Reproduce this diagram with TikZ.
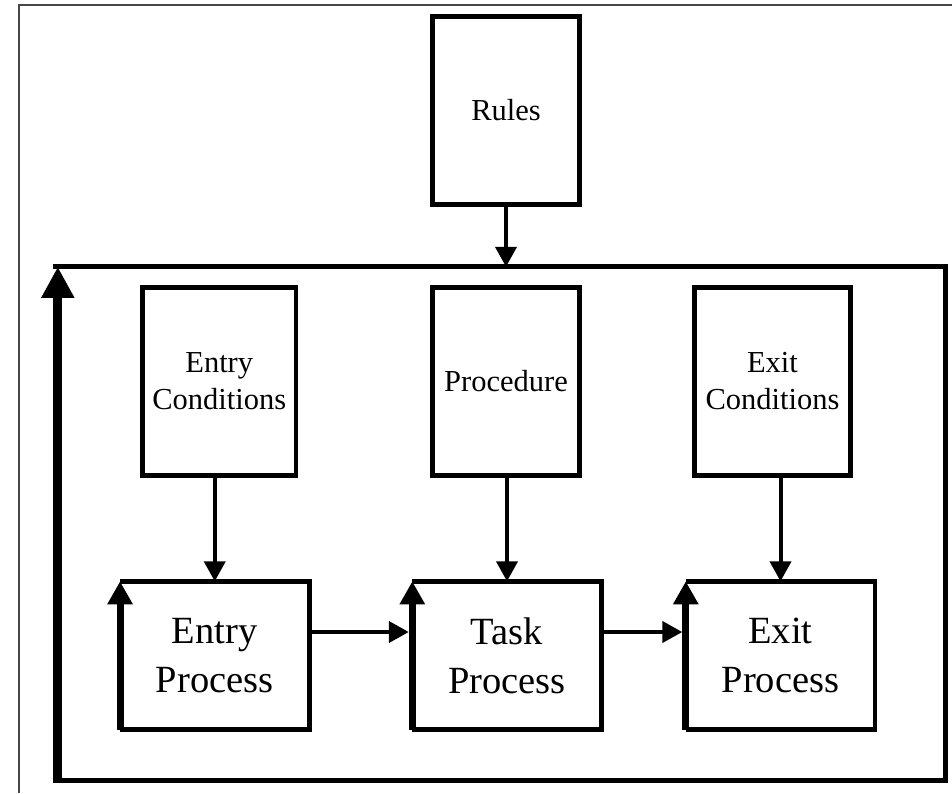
\documentclass[tikz,border=0pt]{standalone}
\usepackage{fontspec}
\setmainfont{Liberation Serif}
\usetikzlibrary{arrows.meta,calc}

\tikzset{
  smallbox/.style={draw, line width=4.5pt, rectangle, inner sep=0pt,
    minimum height=188pt, align=center,
    font=\fontsize{30.5}{37}\selectfont},
  procbox/.style={rectangle, inner sep=0pt, minimum width=189pt,
    minimum height=148pt, align=center,
    font=\fontsize{38.5}{49}\selectfont},
  boxedge/.style={line width=4.5pt, line join=miter},
  flow/.style={line width=4pt, -{Triangle[width=21pt,length=20pt]}},
  backloop/.style={line width=7pt, -{Triangle[width=24pt,length=23pt]}},
  mainloop/.style={line width=9pt, -{Triangle[width=31pt,length=31pt]}},
  frameline/.style={line width=2pt, draw=black!72}
}

\begin{document}
\begin{tikzpicture}[x=1pt,y=-1pt]
  \useasboundingbox (0,0) rectangle (952,793);

  % page frame (only its left and top edges fall inside)
  \coordinate (fbl) at (18.5,793);
  \coordinate (ftl) at (18.5,5);
  \coordinate (ftr) at (952,5);
  \draw[frameline] (fbl) -- (ftl) -- (ftr);

  % enclosing loop
  \node[rectangle, inner sep=0pt, minimum width=887.5pt, minimum height=513.5pt]
    (loop) at (501.75,523.75) {};
  \draw[line width=5pt, line join=miter]
    ($(loop.north west)+(-4.5,0)$) -- (loop.north east) -- (loop.south east)
    -- ($(loop.south west)+(-4.5,0)$);
  \draw[mainloop] (loop.south west) -- (loop.north west);

  % rules on top
  \node[smallbox, minimum width=147pt] (rules) at (506,110.5) {Rules};

  % condition / procedure boxes
  \node[smallbox, minimum width=153.5pt] (ec) at (219.25,381.5) {Entry\\Conditions};
  \node[smallbox, minimum width=147pt] (proc) at (506,381.5) {Procedure};
  \node[smallbox, minimum width=156pt] (xc) at (772.5,381.5) {Exit\\Conditions};

  % process boxes
  \node[procbox] (ep) at (214.75,655.5) {Entry\\Process};
  \node[procbox] (tp) at (507,655.5) {Task\\Process};
  \node[procbox] (xp) at (780.5,655.5) {Exit\\Process};

  \foreach \p in {ep,tp,xp}{
    \draw[boxedge] (\p.north west) -- (\p.north east) -- (\p.south east) -- (\p.south west);
    \draw[backloop] (\p.south west) -- (\p.north west);
  }

  % connectors
  \draw[flow] (rules.south) -- (rules.south |- loop.north);
  \draw[flow] (ec.south -| ep.north) -- (ep.north);
  \draw[flow] (proc.south -| tp.north) -- (tp.north);
  \draw[flow] (xc.south -| xp.north) -- (xp.north);

  \coordinate (rowline) at (0,632);
  \draw[flow] (ep.east |- rowline) -- ($(tp.west |- rowline)+(-3.5,0)$);
  \draw[flow] (tp.east |- rowline) -- ($(xp.west |- rowline)+(-3.5,0)$);
\end{tikzpicture}
\end{document}
